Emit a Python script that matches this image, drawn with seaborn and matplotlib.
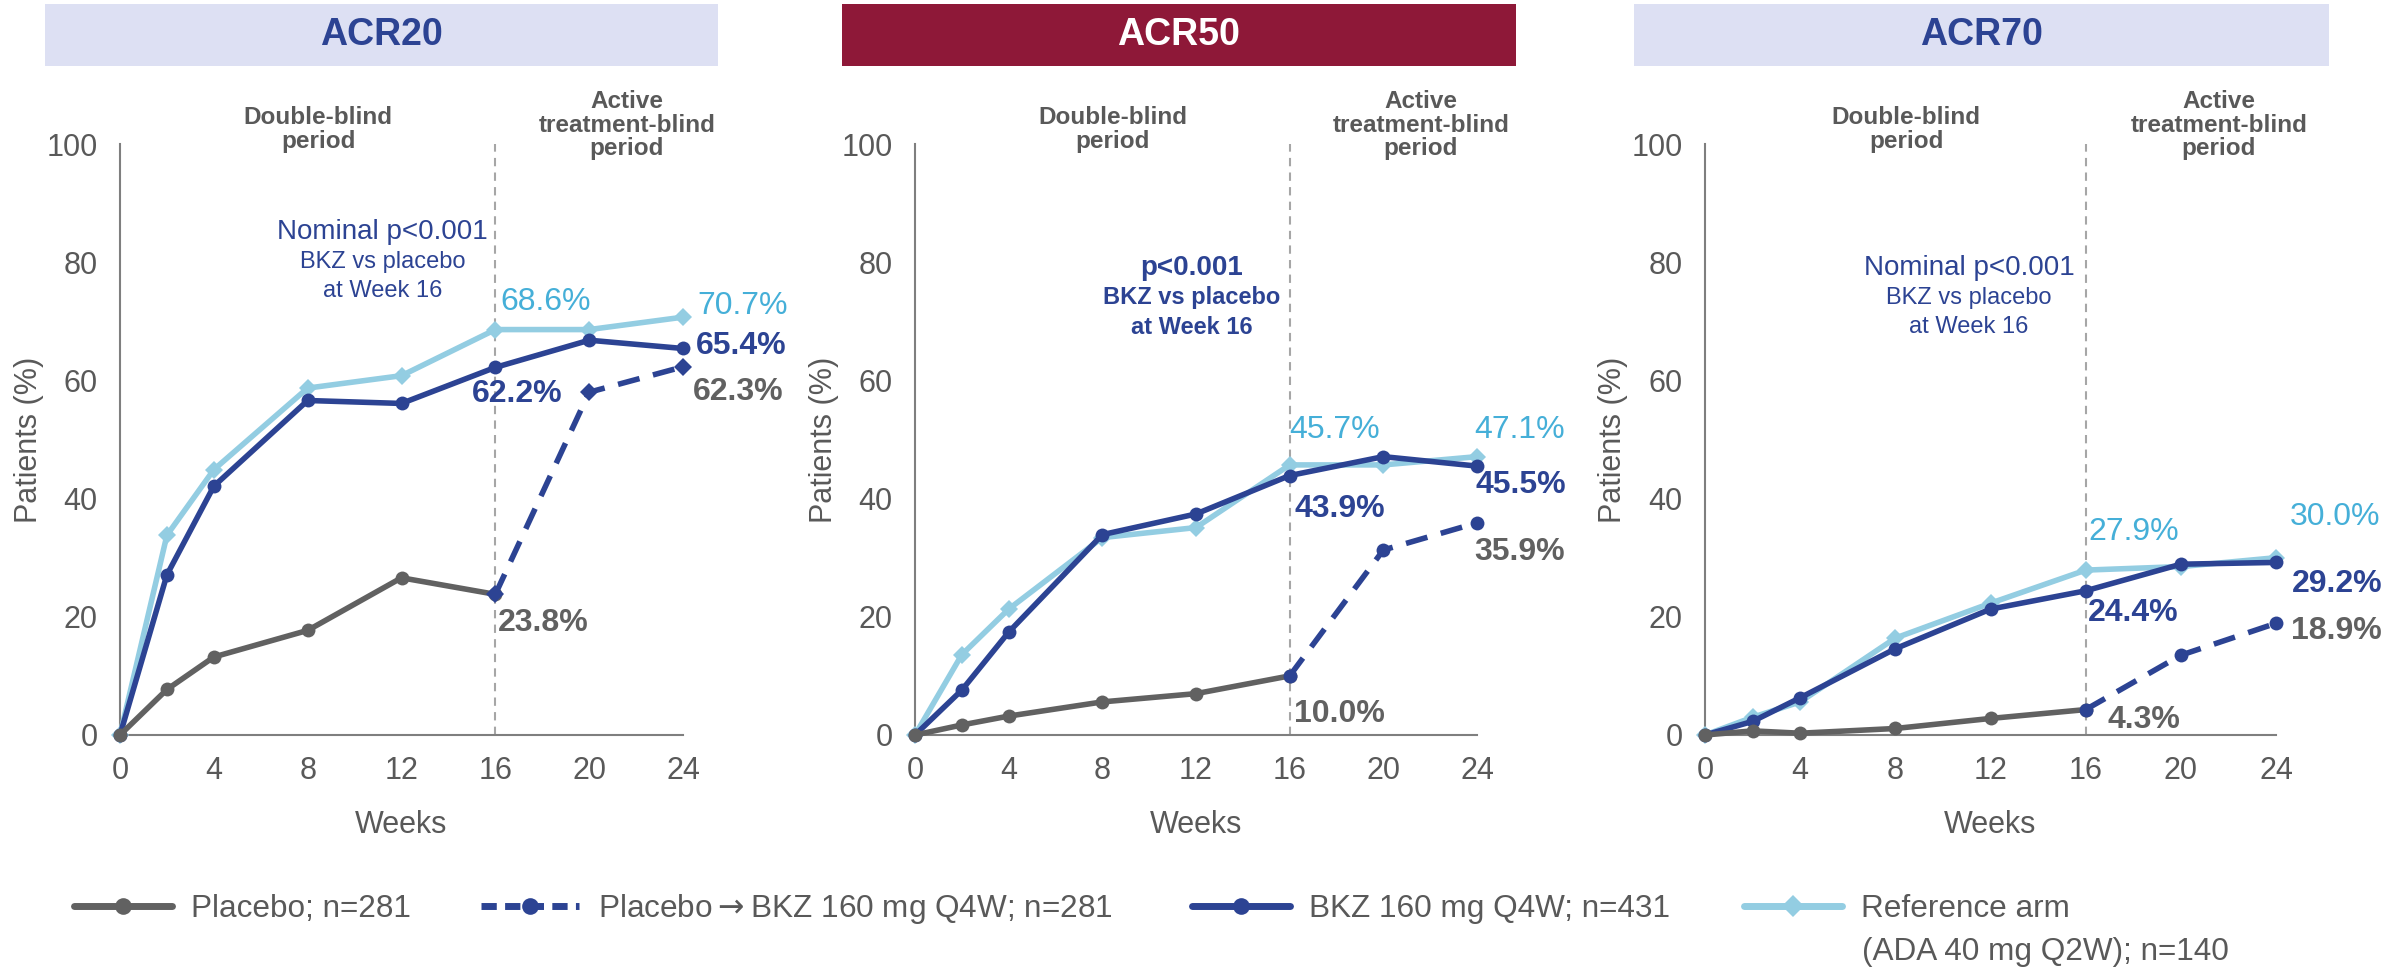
import seaborn as sns
import matplotlib.pyplot as plt
from matplotlib.patches import Rectangle
from matplotlib.lines import Line2D

# data
weeks = [0, 2, 4, 8, 12, 16, 20, 24]
weeks_db = [0, 2, 4, 8, 12, 16]
weeks_switch = [16, 20, 24]

panels = ["ACR20", "ACR50", "ACR70"]

placebo = {
    "ACR20": [0, 7.7, 13.2, 17.7, 26.6, 23.8],
    "ACR50": [0, 1.7, 3.2, 5.6, 7.0, 10.0],
    "ACR70": [0, 0.7, 0.3, 1.1, 2.8, 4.3],
}
placebo_bkz = {
    "ACR20": [23.8, 58.0, 62.3],
    "ACR50": [10.0, 31.3, 35.9],
    "ACR70": [4.3, 13.5, 18.9],
}
bkz = {
    "ACR20": [0, 27.1, 42.1, 56.6, 56.1, 62.2, 66.8, 65.4],
    "ACR50": [0, 7.6, 17.4, 33.9, 37.4, 43.9, 47.1, 45.5],
    "ACR70": [0, 2.3, 6.3, 14.6, 21.3, 24.4, 28.9, 29.2],
}
reference = {
    "ACR20": [0, 33.8, 44.9, 58.7, 60.8, 68.6, 68.6, 70.7],
    "ACR50": [0, 13.6, 21.3, 33.4, 35.1, 45.7, 45.7, 47.1],
    "ACR70": [0, 3.0, 5.6, 16.4, 22.3, 27.9, 28.5, 30.0],
}
pvalue_text = {
    "ACR20": ["Nominal p<0.001", "BKZ vs placebo", "at Week 16"],
    "ACR50": ["p<0.001", "BKZ vs placebo", "at Week 16"],
    "ACR70": ["Nominal p<0.001", "BKZ vs placebo", "at Week 16"],
}
# the arrow goes through mathtext so it gets a full-width glyph
legend_labels = ["Placebo; n=281", "Placebo${\\rightarrow}$BKZ 160 mg Q4W; n=281",
                 "BKZ 160 mg Q4W; n=431", "Reference arm"]
legend_extra = "(ADA 40 mg Q2W); n=140"

# colours
GRAY = "#616161"
TXT = "#595959"
BLUE = "#2c4393"
LBLUE = "#93cde2"
LBLUE_TXT = "#45afd8"
BOX = "#dde0f3"
BOX50 = "#8e1838"

sns.set_style("white")
plt.rcParams["font.family"] = ["Liberation Sans", "DejaVu Sans"]

W, H = 2387, 967
fig = plt.figure(figsize=(W / 100, H / 100), dpi=100)

ax_left = [120, 915, 1705]
ax_width = [563, 562, 571]
AX_BOTTOM, AX_TOP = 735, 144
box_x = [(45, 718), (842, 1516), (1634, 2329)]

# label positions (data coords) per panel
lab_pos = {
    "ACR20": {"ref16": (16.2, 73.3), "ref24": (24.6, 72.6), "bkz16": (15.0, 57.7),
              "bkz24": (24.55, 65.9), "pbo16": (16.1, 19.0), "sw24": (24.4, 58.0),
              "pv": (11.2, 80.1)},
    "ACR50": {"ref16": (16.0, 51.6), "ref24": (23.9, 51.6), "bkz16": (16.2, 38.3),
              "bkz24": (23.95, 42.3), "pbo16": (16.2, 3.5), "sw24": (23.9, 31.0),
              "pv": (11.8, 74.0)},
    "ACR70": {"ref16": (16.1, 34.3), "ref24": (24.6, 36.9), "bkz16": (16.1, 20.6),
              "bkz24": (24.65, 25.5), "pbo16": (16.9, 2.5), "sw24": (24.65, 17.6),
              "pv": (11.1, 74.0)},
}

LW = 4
MS = 10
for i, name in enumerate(panels):
    ax = fig.add_axes([ax_left[i] / W, 1 - AX_BOTTOM / H, ax_width[i] / W,
                       (AX_BOTTOM - AX_TOP) / H])

    ax.axvline(16, color="#a6a6a6", lw=1.5, ls=(0, (4, 3)), zorder=1)

    sns.lineplot(x=weeks, y=reference[name], ax=ax, color=LBLUE, lw=LW,
                 marker="D", markersize=9, markeredgewidth=0, clip_on=False, zorder=3)
    sns.lineplot(x=weeks, y=bkz[name], ax=ax, color=BLUE, lw=LW,
                 marker="o", markersize=MS, markeredgewidth=0, clip_on=False, zorder=4)
    sns.lineplot(x=weeks_db, y=placebo[name], ax=ax, color=GRAY, lw=LW,
                 marker="o", markersize=MS, markeredgewidth=0, clip_on=False, zorder=5)
    sns.lineplot(x=weeks_switch, y=placebo_bkz[name], ax=ax, color=BLUE, lw=LW,
                 linestyle=(0, (4, 2.5)), marker="D" if name == "ACR20" else "o",
                 markersize=9 if name == "ACR20" else MS, markeredgewidth=0,
                 clip_on=False, zorder=6)

    ax.set_xlim(0, 24)
    ax.set_ylim(0, 100)
    ax.set_xticks(range(0, 25, 4))
    ax.set_yticks(range(0, 101, 20))
    for s in ["top", "right"]:
        ax.spines[s].set_visible(False)
    for s in ["left", "bottom"]:
        ax.spines[s].set_color("#7f7f7f")
        ax.spines[s].set_linewidth(1.5)
    ax.tick_params(axis="both", colors="#7f7f7f", labelcolor=TXT, labelsize=22,
                   direction="out", length=7, width=1.5)
    ax.tick_params(axis="y", pad=9)
    ax.tick_params(axis="x", pad=8)
    ax.set_xlabel("Weeks", fontsize=22, color=TXT)
    ax.set_ylabel("Patients (%)", fontsize=22, color=TXT)
    ax.xaxis.set_label_coords(0.5, -0.152)
    ax.xaxis.label.set_va("center")
    ax.yaxis.set_label_coords(-0.135, 0.5)

    # period labels
    ax.text(8.45, 102.5, "Double-blind\nperiod", ha="center", va="center",
            fontsize=17.5, fontweight="bold", color=TXT, linespacing=1.05, clip_on=False)
    ax.text(21.6, 103.2, "Active\ntreatment-blind\nperiod", ha="center", va="center",
            fontsize=17.5, fontweight="bold", color=TXT, linespacing=1.05, clip_on=False)

    # p-value annotation
    pv = pvalue_text[name]
    px, py = lab_pos[name]["pv"]
    wt = "bold" if name == "ACR50" else "normal"
    ax.text(px, py + 5.0, pv[0], ha="center", va="center", fontsize=20,
            color=BLUE, fontweight=wt)
    ax.text(px, py, pv[1], ha="center", va="center", fontsize=17, color=BLUE, fontweight=wt)
    ax.text(px, py - 5.0, pv[2], ha="center", va="center", fontsize=17, color=BLUE, fontweight=wt)

    # value labels
    lp = lab_pos[name]
    labs = [
        ("ref16", reference[name][5], LBLUE_TXT, "normal"),
        ("ref24", reference[name][7], LBLUE_TXT, "normal"),
        ("bkz16", bkz[name][5], BLUE, "bold"),
        ("bkz24", bkz[name][7], BLUE, "bold"),
        ("pbo16", placebo[name][5], GRAY, "bold"),
        ("sw24", placebo_bkz[name][2], GRAY, "bold"),
    ]
    for key, v, c, w in labs:
        x, y = lp[key]
        ax.text(x, y, f"{v:.1f}%", ha="left", va="center", fontsize=23,
                color=c, fontweight=w, clip_on=False)

    # title box
    x0, x1 = box_x[i]
    fig.patches.append(Rectangle((x0 / W, 1 - 66 / H), (x1 - x0) / W, 62 / H,
                                 transform=fig.transFigure,
                                 facecolor=BOX50 if name == "ACR50" else BOX,
                                 edgecolor="none"))
    fig.text((x0 + x1) / 2 / W, 1 - 35 / H, name, ha="center", va="center",
             fontsize=27, fontweight="bold", color="white" if name == "ACR50" else BLUE)

# legend entries placed individually
handles = [
    Line2D([], [], color=GRAY, lw=LW + 1, marker="o", markersize=12, markeredgewidth=0),
    Line2D([], [], color=BLUE, lw=LW + 1, ls=(0, (2.2, 1.2)), marker="o", markersize=12,
           markeredgewidth=0),
    Line2D([], [], color=BLUE, lw=LW + 1, marker="o", markersize=12, markeredgewidth=0),
    Line2D([], [], color=LBLUE, lw=LW + 1, marker="D", markersize=11, markeredgewidth=0),
]
leg_x = [74, 481, 1192, 1744]
for h, lab, lx in zip(handles, legend_labels, leg_x):
    fig.legend([h], [lab], loc="center left", bbox_to_anchor=(lx / W, 1 - 909 / H),
               frameon=False, fontsize=22.7, handlelength=3.1, handletextpad=0.62,
               borderpad=0, borderaxespad=0, labelcolor=TXT)
fig.text(1862 / W, 1 - 952 / H, legend_extra, ha="left", va="center",
         fontsize=22.7, color=TXT)

fig.savefig("out.png", dpi=100, facecolor="white")
